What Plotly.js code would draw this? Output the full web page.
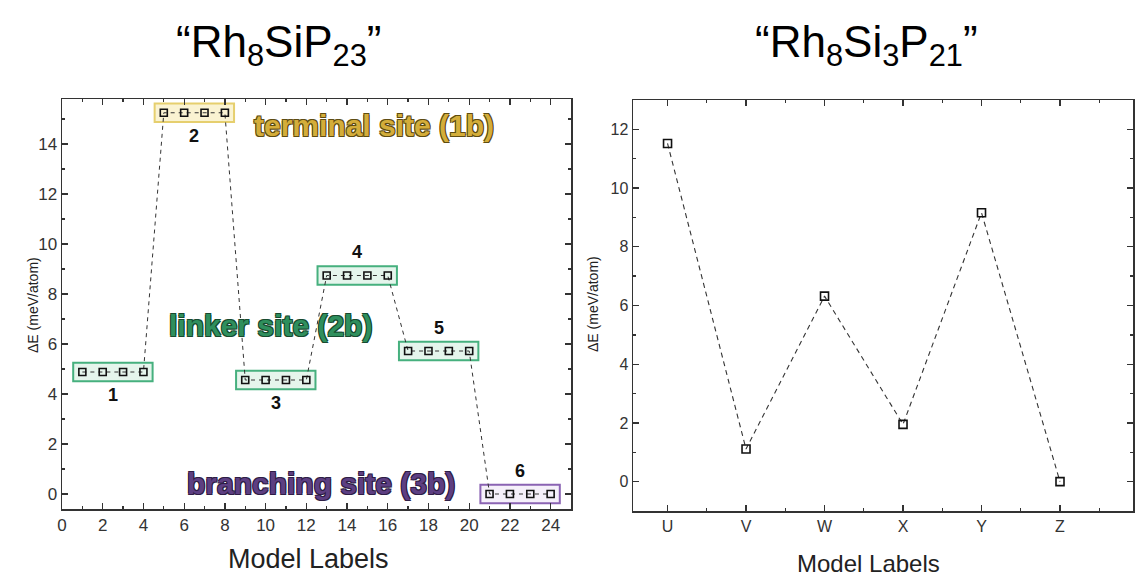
<!DOCTYPE html>
<html>
<head>
<meta charset="utf-8">
<script src="https://cdn.plot.ly/plotly-3.0.1.min.js"></script>
<style>html,body{margin:0;padding:0;background:#fff;}#chart{width:1135px;height:579px;}</style>
</head>
<body>
<div id="chart"></div>
<script>
// ---- Left panel data: "Rh8SiP23" ----
const leftModels = [1,2,3,4,5,6,7,8,9,10,11,12,13,14,15,16,17,18,19,20,21,22,23,24];
const leftEnergy = [4.88,4.88,4.88,4.88, 15.25,15.25,15.25,15.25, 4.56,4.56,4.56,4.56,
                    8.74,8.74,8.74,8.74, 5.72,5.72,5.72,5.72, 0,0,0,0];
const groupLabels = ['1','2','3','4','5','6'];
const groupSite = ['linker','terminal','linker','linker','linker','branching'];
const groupLabelSide = [-1,-1,-1,1,1,1];
const siteNames = {terminal:'terminal site (1b)', linker:'linker site (2b)', branching:'branching site (3b)'};

// ---- Right panel data: "Rh8Si3P21" ----
const rightLabels = ['U','V','W','X','Y','Z'];
const rightEnergy = [11.52, 1.11, 6.32, 1.95, 9.16, 0];

const FONT = 'Liberation Sans, Arial, Helvetica, sans-serif';
const siteStyle = {
  terminal: {line:'#e6cf6e', fill:'rgba(250,242,205,0.9)', text:'#d4ad3a', outline:'#5e4c12'},
  linker:   {line:'#46b07e', fill:'rgba(226,244,234,0.9)', text:'#2f8f5d', outline:'#174a2f'},
  branching:{line:'#8a63b3', fill:'rgba(244,238,250,0.9)', text:'#5d3f82', outline:'#2e1d45'}
};
function outline(c){return `-1px -1px 0 ${c}, 1px -1px 0 ${c}, -1px 1px 0 ${c}, 1px 1px 0 ${c}`;}

const rightIdx = rightLabels.map((_, i) => i);

const traces = [
  {x:leftModels, y:leftEnergy, xaxis:'x', yaxis:'y', type:'scatter', mode:'lines+markers',
   line:{color:'#333', width:1, dash:'4px,4px'},
   marker:{symbol:'square-open', size:7, color:'#111', line:{width:1.6, color:'#111'}},
   hoverinfo:'x+y', showlegend:false},
  {x:rightIdx, y:rightEnergy, xaxis:'x2', yaxis:'y2', type:'scatter', mode:'lines+markers',
   line:{color:'#333', width:1.1, dash:'5px,4px'},
   marker:{symbol:'square-open', size:8, color:'#111', line:{width:1.6, color:'#111'}},
   text:rightLabels, hoverinfo:'text+y', showlegend:false}
];

const shapes = [];
const annotations = [];
groupLabels.forEach((lab, g) => {
  const xs = leftModels.slice(g*4, g*4+4);
  const ys = leftEnergy.slice(g*4, g*4+4);
  const v = ys[0];
  const st = siteStyle[groupSite[g]];
  shapes.push({type:'rect', xref:'x', yref:'y', layer:'below',
    x0: Math.min(...xs)-0.45, x1: Math.max(...xs)+0.45, y0: v-0.37, y1: v+0.37,
    line:{color:st.line, width:2}, fillcolor:st.fill});
  const xc = (Math.min(...xs)+Math.max(...xs))/2;
  annotations.push({xref:'x', yref:'y', x:xc, y:v+groupLabelSide[g]*0.93, text:'<b>'+lab+'</b>',
    showarrow:false, font:{family:FONT, size:18, color:'#111'}});
});

// Site names
const sitePos = {terminal:[15.3,14.73], linker:[10.26,6.73], branching:[12.71,0.44]};
Object.keys(siteNames).forEach(k => {
  const st = siteStyle[k];
  annotations.push({xref:'x', yref:'y', x:sitePos[k][0], y:sitePos[k][1], text:'<b>'+siteNames[k]+'</b>',
    showarrow:false, font:{family:FONT, size:30, color:st.text, shadow:outline(st.outline)}});
});

// Titles
annotations.push({xref:'paper', yref:'paper', x:278/1135, y:1-45/579, xanchor:'center', yanchor:'middle',
  text:'“Rh<sub>8</sub>SiP<sub>23</sub>”', showarrow:false, font:{family:FONT, size:44, color:'#000'}});
annotations.push({xref:'paper', yref:'paper', x:866/1135, y:1-45/579, xanchor:'center', yanchor:'middle',
  text:'“Rh<sub>8</sub>Si<sub>3</sub>P<sub>21</sub>”', showarrow:false, font:{family:FONT, size:44, color:'#000'}});
// Axis titles
annotations.push({xref:'paper', yref:'paper', x:309/1135, y:1-559/579, xanchor:'center', yanchor:'middle',
  text:'Model Labels', showarrow:false, font:{family:FONT, size:27, color:'#222'}});
annotations.push({xref:'paper', yref:'paper', x:868/1135, y:1-563/579, xanchor:'center', yanchor:'middle',
  text:'Model Labels', showarrow:false, font:{family:FONT, size:24, color:'#222'}});
annotations.push({xref:'paper', yref:'paper', x:33/1135, y:1-305/579, xanchor:'center', yanchor:'middle', textangle:-90,
  text:'ΔE (meV/atom)', showarrow:false, font:{family:FONT, size:14, color:'#222'}});
annotations.push({xref:'paper', yref:'paper', x:593/1135, y:1-304/579, xanchor:'center', yanchor:'middle', textangle:-90,
  text:'ΔE (meV/atom)', showarrow:false, font:{family:FONT, size:14, color:'#222'}});

const axCommon = {showline:true, mirror:'ticks', linecolor:'#333', linewidth:1.5, ticks:'inside',
  ticklen:6, tickwidth:1.3, tickcolor:'#333', showgrid:false, zeroline:false,
  tickfont:{family:FONT, size:17, color:'#333'}};

const layout = {
  width:1135, height:579, margin:{l:0, r:0, t:0, b:0},
  paper_bgcolor:'#fff', plot_bgcolor:'#fff', showlegend:false,
  xaxis: Object.assign({}, axCommon, {domain:[62/1135, 571/1135], range:[0,25], tick0:0, dtick:2,
    minor:{dtick:1, ticks:'inside', ticklen:3, tickcolor:'#333'}, anchor:'y'}),
  yaxis: Object.assign({}, axCommon, {domain:[70/579, 480/579], range:[-0.6,15.8], tick0:0, dtick:2,
    minor:{dtick:1, ticks:'inside', ticklen:3, tickcolor:'#333'}, anchor:'x'}),
  xaxis2: Object.assign({}, axCommon, {domain:[633/1135, 1133/1135], range:[-0.44,5.93],
    tickmode:'array', tickvals:rightIdx, ticktext:rightLabels, tickfont:{family:FONT, size:16, color:'#333'},
    minor:{tickmode:'array', tickvals:rightIdx.map(i=>i+0.5), ticks:'inside', ticklen:3, tickcolor:'#333'}, anchor:'y2'}),
  yaxis2: Object.assign({}, axCommon, {domain:[68/579, 479/579], range:[-1,13], tick0:0, dtick:2,
    tickfont:{family:FONT, size:16, color:'#333'},
    minor:{dtick:1, ticks:'inside', ticklen:3, tickcolor:'#333'}, anchor:'x2'}),
  shapes: shapes,
  annotations: annotations
};

Plotly.newPlot('chart', traces, layout, {staticPlot:true, displayModeBar:false});
</script>
</body>
</html>
